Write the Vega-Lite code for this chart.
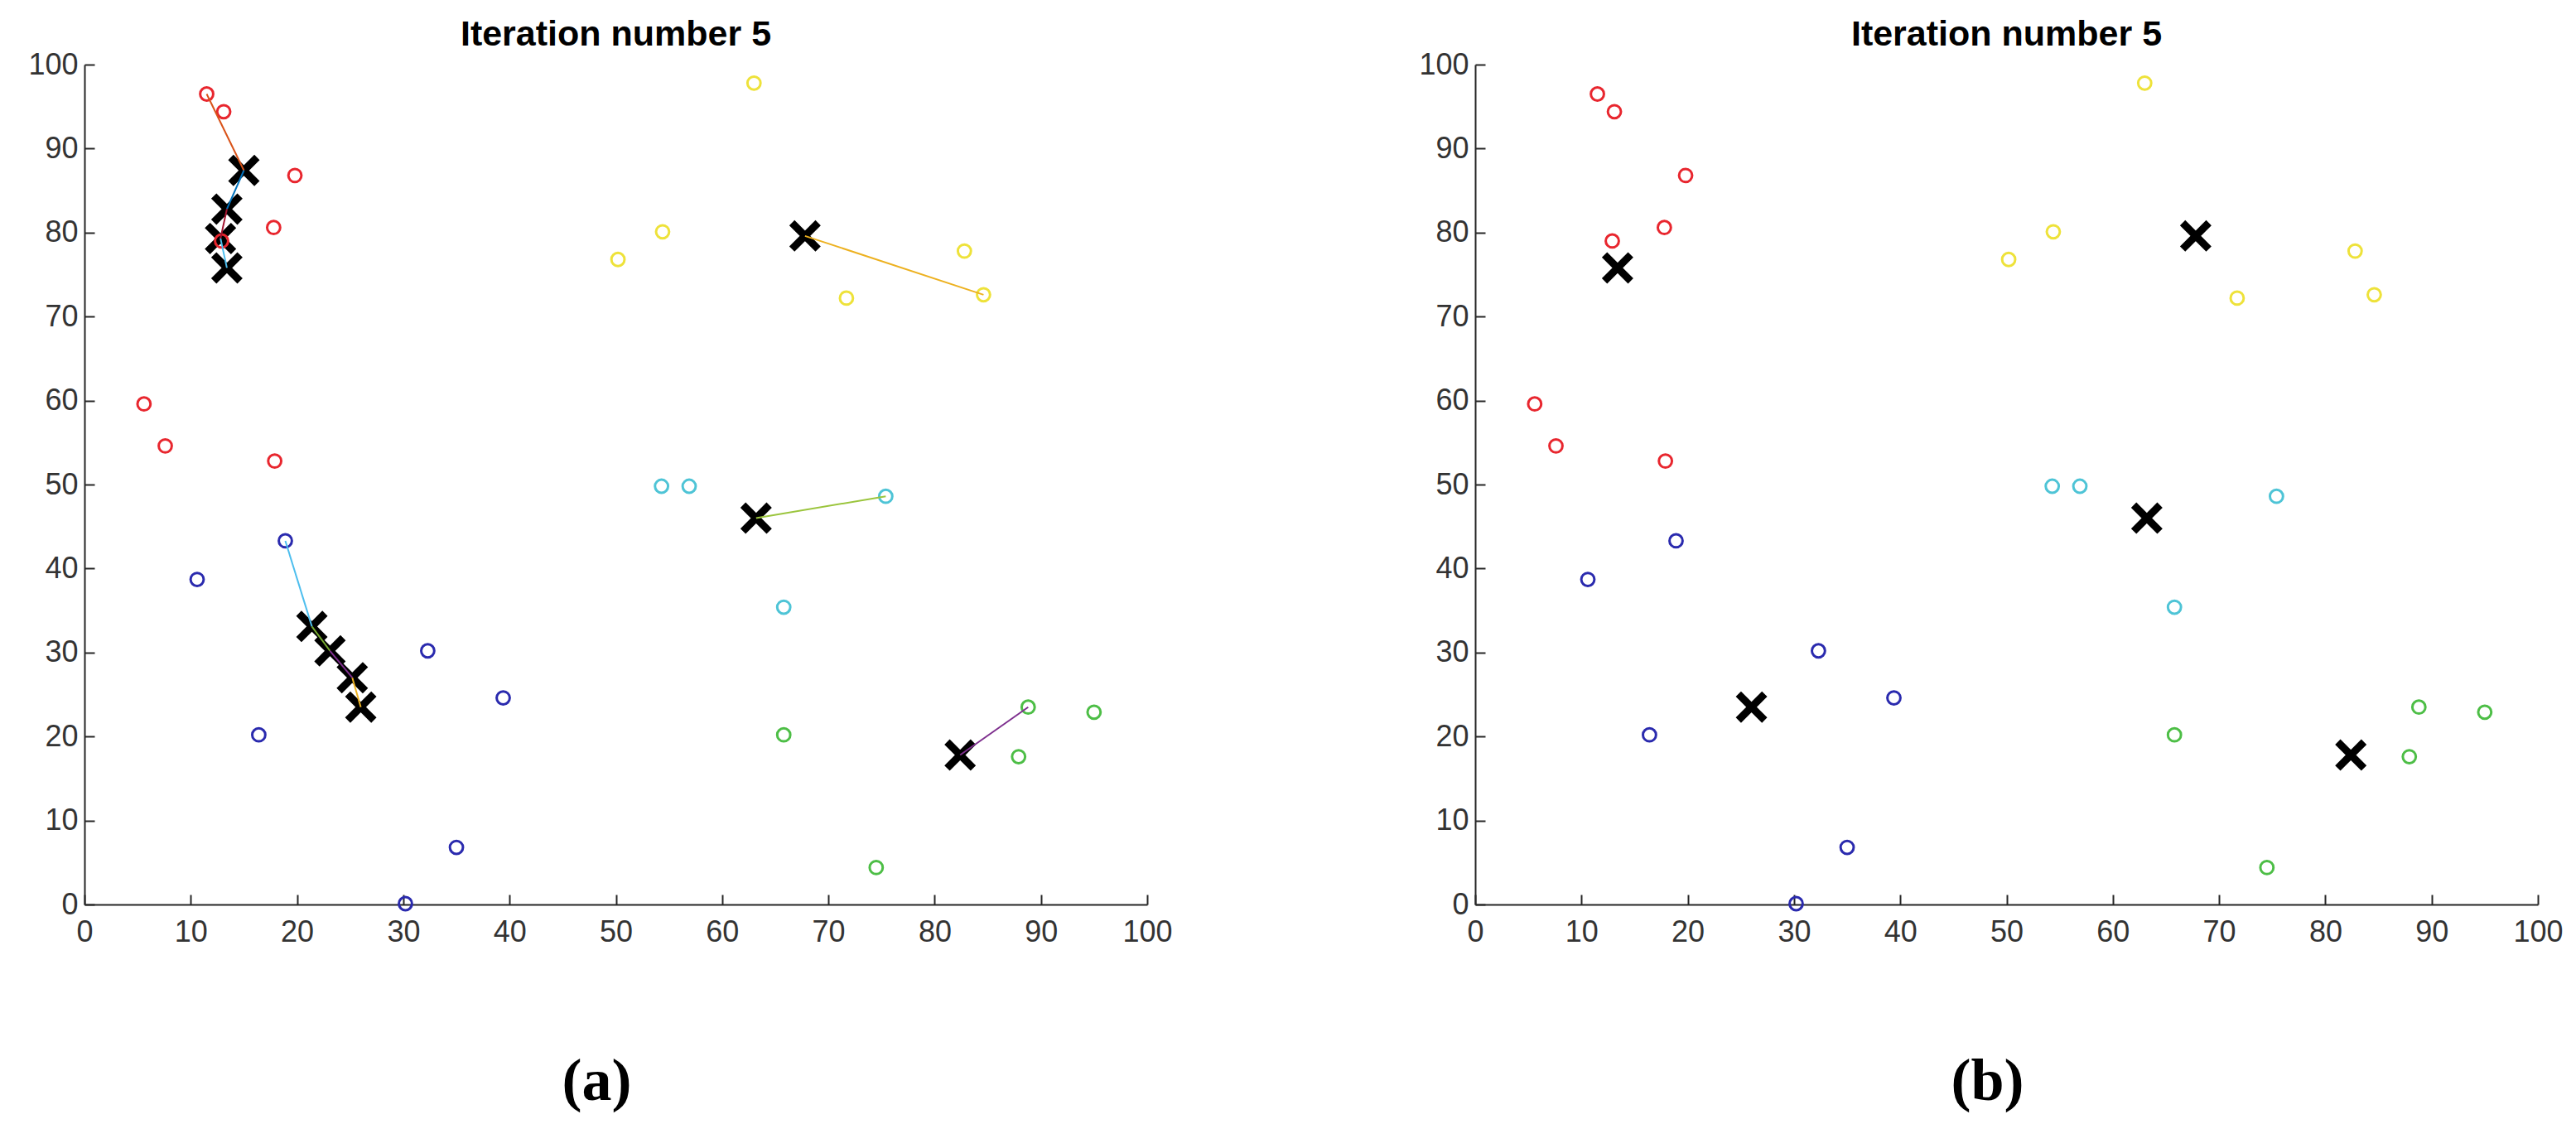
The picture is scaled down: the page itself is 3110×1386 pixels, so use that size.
{
  "$schema": "https://vega.github.io/schema/vega-lite/v6.json",
  "padding": {"left": 33, "top": 21, "right": 10, "bottom": 10},
  "background": "white",
  "config": {
    "view": {"stroke": null},
    "axis": {
      "grid": false,
      "domainColor": "#262626",
      "domainWidth": 2,
      "tickColor": "#262626",
      "tickWidth": 2,
      "tickSize": -12,
      "labelFont": "Liberation Sans",
      "labelFontSize": 36,
      "labelColor": "#333333",
      "labelFlush": false,
      "labelOverlap": false
    },
    "title": {"font": "Liberation Sans", "fontSize": 43, "fontWeight": "bold", "color": "#000000", "anchor": "middle", "baseline": "alphabetic", "offset": -4}
  },
  "datasets": {
    "pts": [
      {"x": 11.5, "y": 96.5, "k": "red"},
      {"x": 13.1, "y": 94.4, "k": "red"},
      {"x": 19.8, "y": 86.8, "k": "red"},
      {"x": 17.8, "y": 80.6, "k": "red"},
      {"x": 12.9, "y": 79.0, "k": "red"},
      {"x": 5.6, "y": 59.6, "k": "red"},
      {"x": 7.6, "y": 54.6, "k": "red"},
      {"x": 17.9, "y": 52.8, "k": "red"},
      {"x": 10.6, "y": 38.7, "k": "blue"},
      {"x": 18.9, "y": 43.3, "k": "blue"},
      {"x": 32.3, "y": 30.2, "k": "blue"},
      {"x": 39.4, "y": 24.6, "k": "blue"},
      {"x": 16.4, "y": 20.2, "k": "blue"},
      {"x": 35.0, "y": 6.8, "k": "blue"},
      {"x": 30.2, "y": 0.1, "k": "blue"},
      {"x": 54.3, "y": 49.8, "k": "cyan"},
      {"x": 56.9, "y": 49.8, "k": "cyan"},
      {"x": 75.4, "y": 48.6, "k": "cyan"},
      {"x": 65.8, "y": 35.4, "k": "cyan"},
      {"x": 63.0, "y": 97.8, "k": "yellow"},
      {"x": 54.4, "y": 80.1, "k": "yellow"},
      {"x": 50.2, "y": 76.8, "k": "yellow"},
      {"x": 82.8, "y": 77.8, "k": "yellow"},
      {"x": 71.7, "y": 72.2, "k": "yellow"},
      {"x": 84.6, "y": 72.6, "k": "yellow"},
      {"x": 65.8, "y": 20.2, "k": "green"},
      {"x": 88.8, "y": 23.5, "k": "green"},
      {"x": 95.0, "y": 22.9, "k": "green"},
      {"x": 87.9, "y": 17.6, "k": "green"},
      {"x": 74.5, "y": 4.4, "k": "green"}
    ],
    "centA": [
      {"x": 15.0, "y": 87.4},
      {"x": 13.4, "y": 82.8},
      {"x": 12.8, "y": 79.3},
      {"x": 13.4, "y": 75.8},
      {"x": 21.4, "y": 33.1},
      {"x": 23.1, "y": 30.2},
      {"x": 25.2, "y": 27.0},
      {"x": 26.0, "y": 23.5},
      {"x": 63.2, "y": 46.0},
      {"x": 67.8, "y": 79.6},
      {"x": 82.4, "y": 17.8}
    ],
    "centB": [
      {"x": 13.4, "y": 75.8},
      {"x": 67.8, "y": 79.6},
      {"x": 63.2, "y": 46.0},
      {"x": 26.0, "y": 23.5},
      {"x": 82.4, "y": 17.8}
    ],
    "segs": [
      {"x": 11.5, "y": 96.5, "x2": 15.0, "y2": 87.4, "c": "#D95319"},
      {"x": 15.0, "y": 87.4, "x2": 13.4, "y2": 82.8, "c": "#0072BD"},
      {"x": 13.4, "y": 82.8, "x2": 12.8, "y2": 79.3, "c": "#A2142F"},
      {"x": 12.8, "y": 79.3, "x2": 13.4, "y2": 75.8, "c": "#4DBEEE"},
      {"x": 18.9, "y": 43.3, "x2": 21.4, "y2": 33.1, "c": "#4DBEEE"},
      {"x": 21.4, "y": 33.1, "x2": 23.1, "y2": 30.2, "c": "#77AC30"},
      {"x": 23.1, "y": 30.2, "x2": 25.2, "y2": 27.0, "c": "#7E2F8E"},
      {"x": 25.2, "y": 27.0, "x2": 26.0, "y2": 23.5, "c": "#EDB120"},
      {"x": 75.4, "y": 48.6, "x2": 63.2, "y2": 46.0, "c": "#9BC53D"},
      {"x": 84.6, "y": 72.6, "x2": 67.8, "y2": 79.6, "c": "#EDB120"},
      {"x": 88.8, "y": 23.5, "x2": 82.4, "y2": 17.8, "c": "#7E2F8E"}
    ]
  },
  "spacing": 296,
  "hconcat": [
    {
      "width": 1283,
      "height": 1014,
      "title": "Iteration number 5",
      "layer": [
        {
          "data": {"name": "centA"},
          "mark": {"type": "point", "shape": "M-1,-1L1,1M-1,1L1,-1", "filled": false, "stroke": "#000000", "strokeWidth": 9, "size": 1000, "opacity": 1},
          "encoding": {
            "x": {"field": "x", "type": "quantitative", "scale": {"domain": [0, 100], "nice": false, "zero": false},
                  "axis": {"values": [0,10,20,30,40,50,60,70,80,90,100], "labelPadding": 28, "title": "(a)", "titleFont": "Liberation Serif", "titleFontSize": 72, "titleFontWeight": "bold", "titleColor": "#000000", "titleX": 618, "titleY": 235, "titleBaseline": "alphabetic", "titleAlign": "center"}},
            "y": {"field": "y", "type": "quantitative", "scale": {"domain": [0, 100], "nice": false, "zero": false},
                  "axis": {"values": [0,10,20,30,40,50,60,70,80,90,100], "labelPadding": 20, "title": null}}
          }
        },
        {
          "data": {"name": "pts"},
          "mark": {"type": "point", "shape": "circle", "filled": false, "strokeWidth": 3, "size": 250, "opacity": 1},
          "encoding": {
            "x": {"field": "x", "type": "quantitative"},
            "y": {"field": "y", "type": "quantitative"},
            "color": {"field": "k", "type": "nominal", "legend": null,
                      "scale": {"domain": ["red", "blue", "cyan", "yellow", "green"], "range": ["#E8262E", "#2A2AAE", "#4EC4D6", "#EEE23A", "#4DBE46"]}}
          }
        },
        {
          "data": {"name": "segs"},
          "mark": {"type": "rule", "strokeWidth": 2},
          "encoding": {
            "x": {"field": "x", "type": "quantitative"},
            "y": {"field": "y", "type": "quantitative"},
            "x2": {"field": "x2"},
            "y2": {"field": "y2"},
            "color": {"field": "c", "type": "nominal", "scale": null}
          }
        }
      ]
    },
    {
      "width": 1283,
      "height": 1014,
      "title": "Iteration number 5",
      "layer": [
        {
          "data": {"name": "centB"},
          "mark": {"type": "point", "shape": "M-1,-1L1,1M-1,1L1,-1", "filled": false, "stroke": "#000000", "strokeWidth": 9, "size": 1000, "opacity": 1},
          "encoding": {
            "x": {"field": "x", "type": "quantitative", "scale": {"domain": [0, 100], "nice": false, "zero": false},
                  "axis": {"values": [0,10,20,30,40,50,60,70,80,90,100], "labelPadding": 28, "title": "(b)", "titleFont": "Liberation Serif", "titleFontSize": 72, "titleFontWeight": "bold", "titleColor": "#000000", "titleX": 618, "titleY": 235, "titleBaseline": "alphabetic", "titleAlign": "center"}},
            "y": {"field": "y", "type": "quantitative", "scale": {"domain": [0, 100], "nice": false, "zero": false},
                  "axis": {"values": [0,10,20,30,40,50,60,70,80,90,100], "labelPadding": 20, "title": null}}
          }
        },
        {
          "data": {"name": "pts"},
          "mark": {"type": "point", "shape": "circle", "filled": false, "strokeWidth": 3, "size": 250, "opacity": 1},
          "encoding": {
            "x": {"field": "x", "type": "quantitative"},
            "y": {"field": "y", "type": "quantitative"},
            "color": {"field": "k", "type": "nominal", "legend": null,
                      "scale": {"domain": ["red", "blue", "cyan", "yellow", "green"], "range": ["#E8262E", "#2A2AAE", "#4EC4D6", "#EEE23A", "#4DBE46"]}}
          }
        }
      ]
    }
  ]
}
